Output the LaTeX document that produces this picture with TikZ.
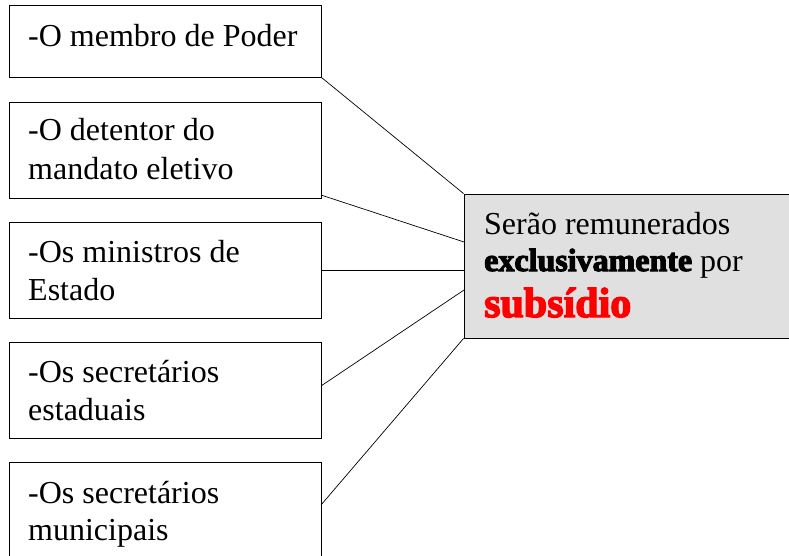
\documentclass[tikz,border=0pt]{standalone}
\usepackage{fontspec}
\setmainfont{Liberation Serif}
\definecolor{boxgrey}{RGB}{224,224,224}
\definecolor{pured}{RGB}{255,0,0}
\newcommand\heavytext[2]{\special{pdf:literal direct 2 Tr #1 w}#2\special{pdf:literal direct 0 Tr}}
\tikzset{
  leftbox/.style={draw=black, line width=0.9pt, fill=white, rectangle, minimum width=312pt, inner sep=0pt},
  greybox/.style={draw=black, line width=0.9pt, fill=boxgrey, rectangle, inner sep=0pt},
  txt/.style={anchor=base west, inner sep=0pt, font=\fontsize{32}{37}\selectfont},
  heavy/.style={anchor=base west, inner sep=0pt},
  link/.style={draw=black, line width=0.7pt}
}
\begin{document}
\begin{tikzpicture}[x=1pt,y=-1pt]
\useasboundingbox (0,0) rectangle (789,556);
% left boxes
\node[leftbox, minimum height=72pt] (b1) at (165,41) {};
\node[leftbox, minimum height=96pt] (b2) at (165,150) {};
\node[leftbox, minimum height=96pt] (b3) at (165,270) {};
\node[leftbox, minimum height=96pt] (b4) at (165,390) {};
\node[leftbox, minimum height=96pt] (b5) at (165,510) {};
% grey box
\node[greybox, minimum width=330pt, minimum height=144pt] (g) at (629,266) {};
% texts
\node[txt] (t1) at (28,47) {-O membro de Poder};
\node[txt] (t2a) at (28,141) {-O detentor do};
\node[txt] (t2b) at (28,179) {mandato eletivo};
\node[txt] (t3a) at (28,262) {-Os ministros de};
\node[txt] (t3b) at (28,300) {Estado};
\node[txt] (t4a) at (28,382) {-Os secretários};
\node[txt] (t4b) at (28,420) {estaduais};
\node[txt] (t5a) at (28,503) {-Os secretários};
\node[txt] (t5b) at (28,540) {municipais};
\node[txt] (g1) at (484,234) {Serão remunerados};
\node[txt] (g2) at (484,271) {{\bfseries\heavytext{1.1}{exclusivamente}} por};
\node[heavy, text=pured, font={\fontsize{42}{46}\selectfont\bfseries}] (g3) at (484,317) {\heavytext{1.4}{subsídio}};
% connection points
\coordinate (c2) at (321,195);
\coordinate (c4) at (321,386);
\coordinate (c5) at (321,505);
\coordinate (gw2) at (464,242);
\coordinate (gw4) at (464,290);
% connectors
\draw[link] (b1.south east) -- (g.north west);
\draw[link] (c2) -- (gw2);
\draw[link] (b3.east) -- (g.west |- b3.east);
\draw[link] (c4) -- (gw4);
\draw[link] (c5) -- (g.south west);
\end{tikzpicture}
\end{document}
